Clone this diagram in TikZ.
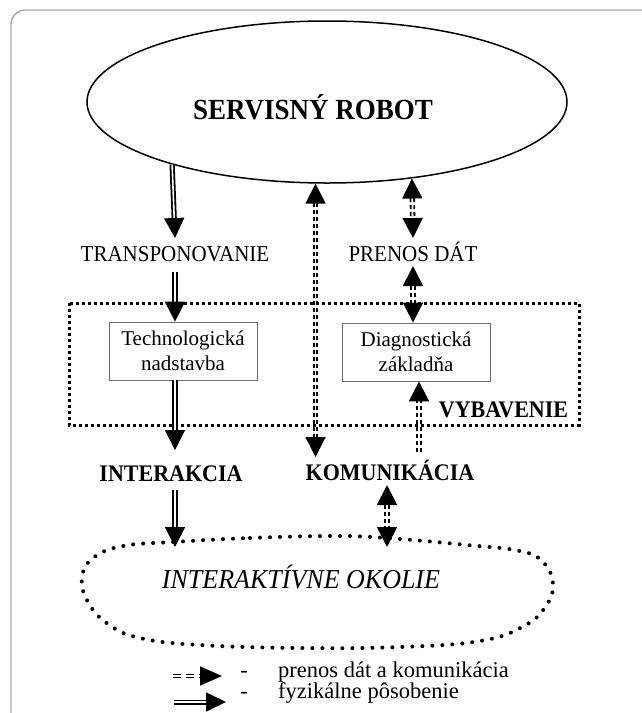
\documentclass[tikz,border=0pt]{standalone}
\usepackage{fontspec}
\setmainfont{Liberation Serif}
\usetikzlibrary{arrows.meta,shapes.geometric,calc}
\definecolor{framegray}{RGB}{170,170,170}
\definecolor{boxgray}{RGB}{110,110,110}
\tikzset{
  tipT/.tip={Triangle[width=20pt,length=20pt]},
  physarrow/.style={double, double distance=1.6pt, line width=1.8pt, -tipT},
  datatwo/.style={double, double distance=1.8pt, line width=1.8pt, dash pattern=on 4pt off 3pt, tipT-tipT},
  dataone/.style={double, double distance=1.8pt, line width=1.8pt, dash pattern=on 4pt off 3pt, -tipT},
  lbl/.style={font=\fontsize{21}{25}\selectfont, anchor=base, inner sep=0pt},
  leglbl/.style={font=\fontsize{22.5}{26}\selectfont, anchor=base, inner sep=0pt},
  blbl/.style={font=\fontsize{22}{26}\selectfont\bfseries, anchor=base, inner sep=0pt},
  boxnode/.style={draw=boxgray, line width=0.8pt, fill=white, minimum width=148pt, minimum height=58pt, align=center, inner sep=0pt, font=\fontsize{21}{25}\selectfont},
  dotbox/.style={line width=3pt, dash pattern=on 3pt off 3pt},
  dotblob/.style={line width=4pt, dash pattern=on 0pt off 10pt, line cap=round},
}
\begin{document}
\begin{tikzpicture}[x=1pt,y=-1pt]
\useasboundingbox (0,0) rectangle (641,713);
% frame
\draw[framegray, line width=1.4pt, rounded corners=14pt] (11,10) rectangle (690,760);

% robot
\node[ellipse, draw, line width=1.5pt, fill=white, minimum width=480pt, minimum height=162pt, inner sep=0pt] (robot) at (327,102) {};
\node[font=\fontsize{27}{30}\selectfont\bfseries, anchor=base, inner sep=0pt] (robottxt) at (313,119) {\scalebox{1}[1.08]{SERVISNÝ ROBOT}};

% equipment frame
\draw[dotbox] (69,303) rectangle (579,425);
\node[blbl] (vyb) at (503.5,417) {\scalebox{1}[1.08]{VYBAVENIE}};

% boxes
\node[boxnode] (tech) at (183,351) {Technologická\\nadstavba};
\node[boxnode] (diag) at (416,352) {Diagnostická\\základňa};

% labels
\node[lbl] (transp) at (175,261) {\scalebox{1}[1.08]{TRANSPONOVANIE}};
\node[lbl] (prenos) at (413,261) {\scalebox{1}[1.08]{PRENOS DÁT}};
\node[blbl] (inter) at (171,481) {\scalebox{1}[1.08]{INTERAKCIA}};
\node[blbl] (komu) at (390,480) {\scalebox{1}[1.08]{KOMUNIKÁCIA}};

% environment blob
\draw[dotblob] plot[smooth cycle, tension=0.7] coordinates {
 (173,542) (250,538) (333,536) (387,538) (467,545) (520,551) (543,562) (553,584)
 (546,606) (524,626) (480,641) (400,647) (300,648) (200,645) (140,638) (108,624)
 (88,602) (82,578) (93,558) (123,546)};
\node[font=\fontsize{26}{30}\selectfont\itshape, anchor=base, inner sep=0pt] (okolie) at (301,588) {\scalebox{1}[1.05]{INTERAKTÍVNE OKOLIE}};
\coordinate (okI) at (175,547);
\coordinate (okK) at (387,547);

% physical arrows
\draw[physarrow] (robot.202.35) -- ($(transp.base)+(0,-23)$);
\draw[physarrow] ($(transp.base)+(0,11)$) -- (transp.base |- tech.north);
\draw[physarrow] (tech.south -| transp.base) -- ($(inter.base -| transp.base)+(0,-31)$);
\draw[physarrow] ($(inter.base -| transp.base)+(0,9)$) -- (okI);

% data arrows
\draw[datatwo] (robot.262.96) -- ($(robot.262.96 |- komu.base)+(0,-23)$);
\draw[datatwo] (robot.318.7) -- ($(prenos.base)+(0,-23)$);
\draw[datatwo] ($(prenos.base)+(0,5)$) -- (prenos.base |- diag.north);
\draw[dataone] ($(komu.base)+(29,-28)$) -- ($(diag.south)+(3,0)$);
\draw[datatwo] ($(komu.base)+(-3,5)$) -- (okK);

% legend
\coordinate (ld1) at (173,676);
\coordinate (ld2) at (222,676);
\coordinate (lp1) at (174,702);
\coordinate (lp2) at (226,702);
\draw[double, double distance=1.6pt, line width=1.6pt, dash pattern=on 8pt off 5pt, -{Triangle[width=19pt,length=22pt]}] (ld1) -- (ld2);
\draw[double, double distance=1.6pt, line width=1.7pt, -{Triangle[width=19pt,length=20pt]}] (lp1) -- (lp2);
\node[leglbl] (h1) at (244,677) {-};
\node[leglbl] (h2) at (244,698) {-};
\node[leglbl, anchor=base west] (leg1) at (278,677) {prenos dát a komunikácia};
\node[leglbl, anchor=base west] (leg2) at (278,698) {fyzikálne pôsobenie};
\end{tikzpicture}
\end{document}
